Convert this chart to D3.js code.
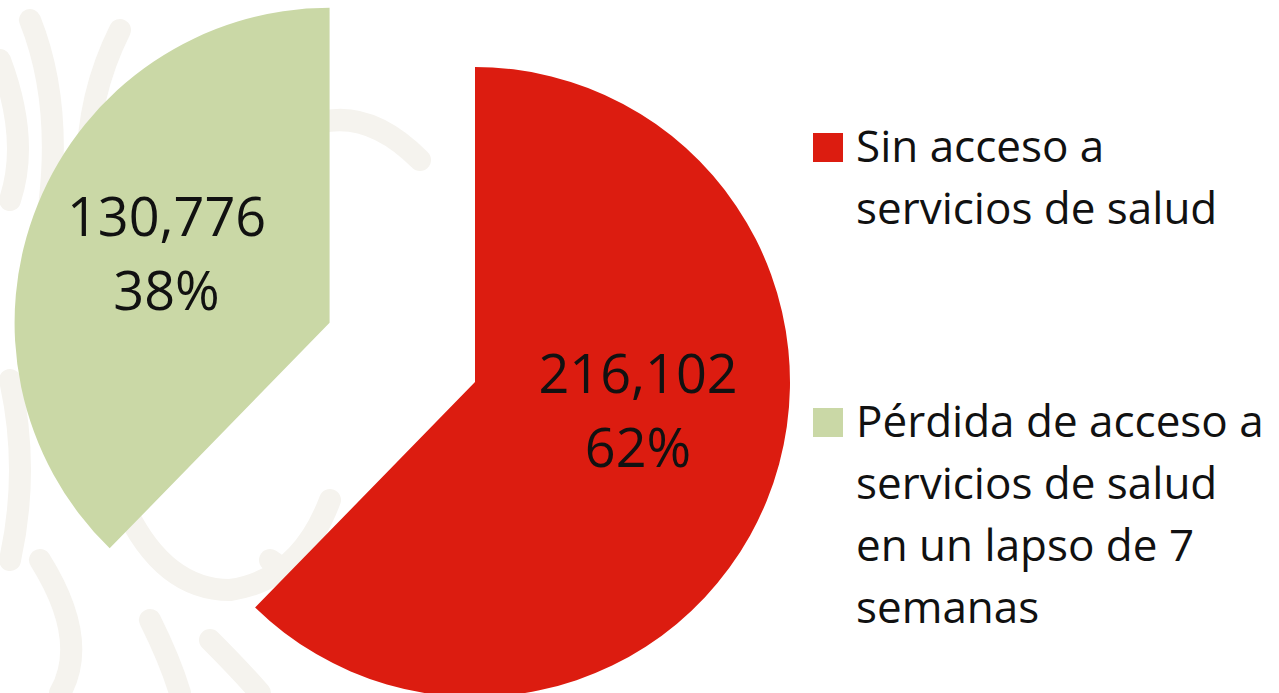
<!DOCTYPE html>
<html>
<head>
<meta charset="utf-8">
<script src="https://cdn.jsdelivr.net/npm/d3@7"></script>
<style>
  html, body { margin: 0; padding: 0; background: #ffffff; }
  svg { display: block; }
</style>
</head>
<body>
<div id="chart"></div>
<script>
// Data
const categories = [
  "Sin acceso a servicios de salud",
  "Pérdida de acceso a servicios de salud en un lapso de 7 semanas",
];
const values = [216102, 130776];
const legendLines = [
  ["Sin acceso a", "servicios de salud"],
  ["Pérdida de acceso a", "servicios de salud", "en un lapso de 7", "semanas"],
];
const colors = ["#DC1C10", "#CAD8A6"];

const width = 1279;
const height = 693;
const radius = 315;
const center = { x: 475, y: 382 };
const explode = [0, 157]; // distance each slice is pulled out
const labelRadius = 176;
const labelShift = [-55, -21]; // vertical nudge of the data labels
const font = "'Open Sans', Lato, sans-serif";

const svg = d3
  .select("#chart")
  .append("svg")
  .attr("width", width)
  .attr("height", height)
  .attr("viewBox", `0 0 ${width} ${height}`);

svg.append("rect").attr("width", width).attr("height", height).attr("fill", "#ffffff");

// Faint decorative background strokes
const deco = [
  "M30,20 Q70,120 40,260",
  "M120,30 Q60,150 110,300",
  "M300,130 Q360,100 420,160",
  "M10,380 Q30,470 10,560",
  "M40,560 Q90,640 60,693",
  "M110,470 Q150,590 230,590 Q300,580 330,500",
  "M210,640 Q240,670 260,693",
  "M150,620 Q170,660 180,693",
  "M270,560 Q330,600 360,640",
  "M0,60 Q30,140 10,200",
];
svg
  .append("g")
  .selectAll("path")
  .data(deco)
  .join("path")
  .attr("d", (d) => d)
  .attr("fill", "none")
  .attr("stroke", "#F5F3EE")
  .attr("stroke-width", 22)
  .attr("stroke-linecap", "round");

const total = d3.sum(values);
const pie = d3.pie().sort(null).value((d) => d)(values);
const arc = d3.arc().innerRadius(0).outerRadius(radius);
const labelArc = d3.arc().innerRadius(labelRadius).outerRadius(labelRadius);

const offset = (d, i) => {
  const mid = (d.startAngle + d.endAngle) / 2;
  return [Math.sin(mid) * explode[i], -Math.cos(mid) * explode[i]];
};

const slices = svg
  .append("g")
  .attr("transform", `translate(${center.x}, ${center.y})`)
  .selectAll(".slice")
  .data(pie)
  .join("g")
  .attr("class", "slice")
  .attr("transform", (d, i) => {
    const [dx, dy] = offset(d, i);
    return `translate(${dx}, ${dy})`;
  });

slices
  .append("path")
  .attr("d", arc)
  .attr("fill", (d, i) => colors[i]);

// Data labels: value + percentage
const fmt = d3.format(",");
slices
  .append("text")
  .attr("transform", (d, i) => {
    const [x, y] = labelArc.centroid(d);
    return `translate(${x}, ${y + labelShift[i]})`;
  })
  .attr("text-anchor", "middle")
  .style("font-family", font)
  .style("font-size", "54px")
  .attr("fill", "#111")
  .each(function (d) {
    const t = d3.select(this);
    t.append("tspan").attr("x", 0).attr("y", 0).text(fmt(d.data));
    t.append("tspan")
      .attr("x", 0)
      .attr("y", 74)
      .text(`${Math.round((d.data / total) * 100)}%`);
  });

// Legend
const legendTop = [162, 437];
const lineGap = 62;
const legend = svg
  .append("g")
  .attr("transform", "translate(813, 0)")
  .selectAll(".legend-item")
  .data(categories)
  .join("g")
  .attr("class", "legend-item")
  .attr("transform", (d, i) => `translate(0, ${legendTop[i]})`);

legend
  .append("rect")
  .attr("x", 0)
  .attr("y", -29)
  .attr("width", 30)
  .attr("height", 29)
  .attr("fill", (d, i) => colors[i]);

legend
  .append("text")
  .style("font-family", font)
  .style("font-size", "44px")
  .attr("fill", "#111")
  .selectAll("tspan")
  .data((d, i) => legendLines[i])
  .join("tspan")
  .attr("x", 43)
  .attr("y", (d, j) => j * lineGap)
  .text((d) => d);
</script>
</body>
</html>
